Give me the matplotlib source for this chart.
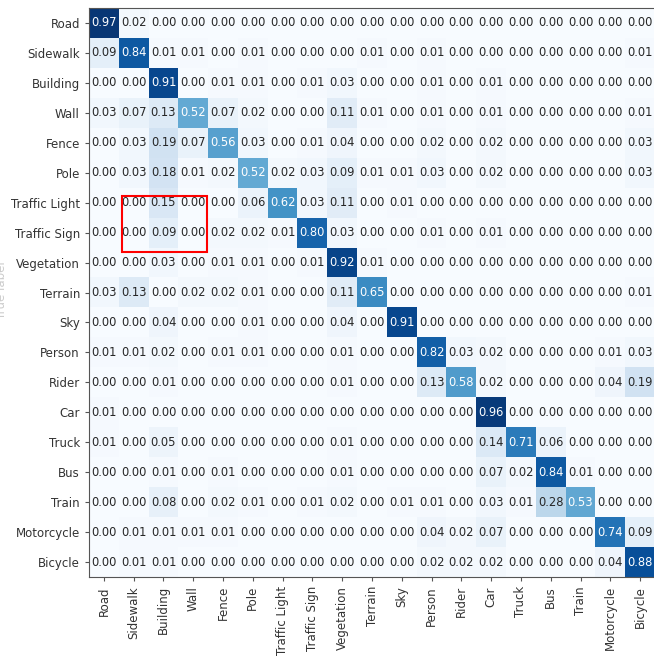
import numpy as np
import matplotlib.pyplot as plt
from matplotlib.patches import Rectangle

classes = ['Road', 'Sidewalk', 'Building', 'Wall', 'Fence', 'Pole',
           'Traffic Light', 'Traffic Sign', 'Vegetation', 'Terrain', 'Sky',
           'Person', 'Rider', 'Car', 'Truck', 'Bus', 'Train', 'Motorcycle',
           'Bicycle']

# normalized confusion matrix, rows = true class, cols = predicted class
road = [0.97, 0.02, 0.00, 0.00, 0.00, 0.00, 0.00, 0.00, 0.00, 0.00, 0.00, 0.00, 0.00, 0.00, 0.00, 0.00, 0.00, 0.00, 0.00]
sidewalk = [0.09, 0.84, 0.01, 0.01, 0.00, 0.01, 0.00, 0.00, 0.00, 0.01, 0.00, 0.01, 0.00, 0.00, 0.00, 0.00, 0.00, 0.00, 0.01]
building = [0.00, 0.00, 0.91, 0.00, 0.01, 0.01, 0.00, 0.01, 0.03, 0.00, 0.00, 0.01, 0.00, 0.01, 0.00, 0.00, 0.00, 0.00, 0.00]
wall = [0.03, 0.07, 0.13, 0.52, 0.07, 0.02, 0.00, 0.00, 0.11, 0.01, 0.00, 0.01, 0.00, 0.01, 0.00, 0.00, 0.00, 0.00, 0.01]
fence = [0.00, 0.03, 0.19, 0.07, 0.56, 0.03, 0.00, 0.01, 0.04, 0.00, 0.00, 0.02, 0.00, 0.02, 0.00, 0.00, 0.00, 0.00, 0.03]
pole = [0.00, 0.03, 0.18, 0.01, 0.02, 0.52, 0.02, 0.03, 0.09, 0.01, 0.01, 0.03, 0.00, 0.02, 0.00, 0.00, 0.00, 0.00, 0.03]
traffic_light = [0.00, 0.00, 0.15, 0.00, 0.00, 0.06, 0.62, 0.03, 0.11, 0.00, 0.01, 0.00, 0.00, 0.00, 0.00, 0.00, 0.00, 0.00, 0.00]
traffic_sign = [0.00, 0.00, 0.09, 0.00, 0.02, 0.02, 0.01, 0.80, 0.03, 0.00, 0.00, 0.01, 0.00, 0.01, 0.00, 0.00, 0.00, 0.00, 0.00]
vegetation = [0.00, 0.00, 0.03, 0.00, 0.01, 0.01, 0.00, 0.01, 0.92, 0.01, 0.00, 0.00, 0.00, 0.00, 0.00, 0.00, 0.00, 0.00, 0.00]
terrain = [0.03, 0.13, 0.00, 0.02, 0.02, 0.01, 0.00, 0.00, 0.11, 0.65, 0.00, 0.00, 0.00, 0.00, 0.00, 0.00, 0.00, 0.00, 0.01]
sky = [0.00, 0.00, 0.04, 0.00, 0.00, 0.01, 0.00, 0.00, 0.04, 0.00, 0.91, 0.00, 0.00, 0.00, 0.00, 0.00, 0.00, 0.00, 0.00]
person = [0.01, 0.01, 0.02, 0.00, 0.01, 0.01, 0.00, 0.00, 0.01, 0.00, 0.00, 0.82, 0.03, 0.02, 0.00, 0.00, 0.00, 0.01, 0.03]
rider = [0.00, 0.00, 0.01, 0.00, 0.00, 0.00, 0.00, 0.00, 0.01, 0.00, 0.00, 0.13, 0.58, 0.02, 0.00, 0.00, 0.00, 0.04, 0.19]
car = [0.01, 0.00, 0.00, 0.00, 0.00, 0.00, 0.00, 0.00, 0.00, 0.00, 0.00, 0.00, 0.00, 0.96, 0.00, 0.00, 0.00, 0.00, 0.00]
truck = [0.01, 0.00, 0.05, 0.00, 0.00, 0.00, 0.00, 0.00, 0.01, 0.00, 0.00, 0.00, 0.00, 0.14, 0.71, 0.06, 0.00, 0.00, 0.00]
bus = [0.00, 0.00, 0.01, 0.00, 0.01, 0.00, 0.00, 0.00, 0.01, 0.00, 0.00, 0.00, 0.00, 0.07, 0.02, 0.84, 0.01, 0.00, 0.00]
train = [0.00, 0.00, 0.08, 0.00, 0.02, 0.01, 0.00, 0.01, 0.02, 0.00, 0.01, 0.01, 0.00, 0.03, 0.01, 0.28, 0.53, 0.00, 0.00]
motorcycle = [0.00, 0.01, 0.01, 0.01, 0.01, 0.00, 0.00, 0.00, 0.00, 0.00, 0.00, 0.04, 0.02, 0.07, 0.00, 0.00, 0.00, 0.74, 0.09]
bicycle = [0.00, 0.01, 0.01, 0.00, 0.00, 0.00, 0.00, 0.00, 0.00, 0.00, 0.00, 0.02, 0.02, 0.02, 0.00, 0.00, 0.00, 0.04, 0.88]

cm = np.array([road, sidewalk, building, wall, fence, pole, traffic_light,
               traffic_sign, vegetation, terrain, sky, person, rider, car,
               truck, bus, train, motorcycle, bicycle])

fig = plt.figure(figsize=(6.54, 6.59), dpi=100)
ax = fig.add_axes([89/654, 1 - 577/659, 566/654, 569/659])
ax.imshow(cm, cmap='Blues', vmin=0, vmax=1, interpolation='nearest', aspect='auto')

n = len(classes)
ax.set_xticks(range(n))
ax.set_yticks(range(n))
ax.set_xticklabels(classes, rotation=90, fontsize=8.5, color='#333333')
ax.set_yticklabels(classes, fontsize=8.5, color='#333333')
ax.tick_params(length=3, color='#555555')
for s in ax.spines.values():
    s.set_color('#555555')

thresh = cm.max() / 2.
for i in range(n):
    for j in range(n):
        ax.text(j, i, format(cm[i, j], '.2f'), ha='center', va='center',
                fontsize=8.3,
                color='white' if cm[i, j] > thresh else '#262626')

# highlight box around the traffic light / sign confusions
ax.add_patch(Rectangle((0.6, 5.77), 2.85, 1.87, fill=False,
                       edgecolor='red', linewidth=1.5, zorder=5))

fig.text(-0.008, 0.56, 'True label', rotation=90, ha='left', va='center',
         fontsize=8.5, color='#cccccc')

fig.savefig('out.png', dpi=100)
